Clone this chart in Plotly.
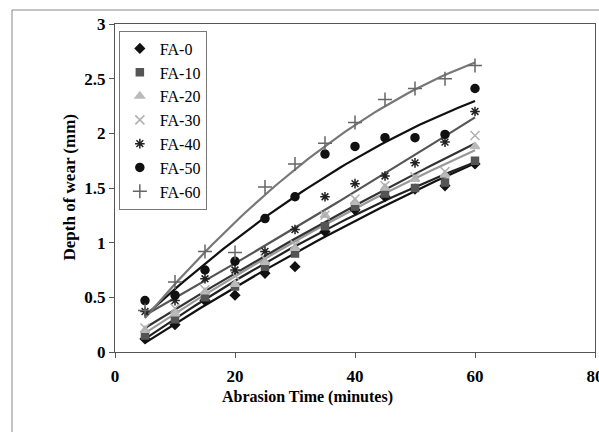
import numpy as np
import plotly.graph_objects as go

time_min = [5, 10, 15, 20, 25, 30, 35, 40, 45, 50, 55, 60]
series_names = ["FA-0", "FA-10", "FA-20", "FA-30", "FA-40", "FA-50", "FA-60"]
fa0 = [0.12, 0.25, 0.47, 0.52, 0.72, 0.78, 1.10, 1.30, 1.42, 1.49, 1.52, 1.72]
fa10 = [0.15, 0.30, 0.50, 0.60, 0.78, 0.90, 1.15, 1.33, 1.45, 1.50, 1.55, 1.75]
fa20 = [0.20, 0.35, 0.55, 0.62, 0.82, 0.95, 1.25, 1.37, 1.50, 1.58, 1.62, 1.88]
fa30 = [0.22, 0.40, 0.57, 0.70, 0.85, 0.98, 1.25, 1.40, 1.52, 1.60, 1.65, 1.98]
fa40 = [0.37, 0.47, 0.67, 0.75, 0.92, 1.12, 1.42, 1.54, 1.61, 1.73, 1.92, 2.20]
fa50 = [0.47, 0.52, 0.75, 0.83, 1.22, 1.42, 1.81, 1.88, 1.96, 1.96, 1.99, 2.41]
fa60 = [0.38, 0.64, 0.92, 0.91, 1.51, 1.72, 1.91, 2.10, 2.31, 2.41, 2.50, 2.62]
x_ticks = [0, 20, 40, 60, 80]
y_ticks = [0, 0.5, 1, 1.5, 2, 2.5, 3]
y_tick_text = ["0", "0.5", "1", "1.5", "2", "2.5", "3"]

values = [fa0, fa10, fa20, fa30, fa40, fa50, fa60]
symbols = ["diamond", "square", "triangle-up", "x-thin-open", "asterisk-open", "circle", "cross-thin-open"]
mcolors = ["#111111", "#555555", "#bbbbbb", "#b0b0b0", "#222222", "#111111", "#666666"]
msizes = [7, 7, 8, 9, 8, 8, 10]
lcolors = ["#111111", "#222222", "#999999", "#333333", "#555555", "#111111", "#777777"]

fig = go.Figure()
xs = np.array(time_min, dtype=float)
xfit = np.linspace(5, 60, 60)
for name, v, sym, mc, ms, lc in zip(series_names, values, symbols, mcolors, msizes, lcolors):
    coef = np.polyfit(xs, np.array(v), 2)
    fig.add_trace(go.Scatter(x=xfit, y=np.polyval(coef, xfit), mode="lines",
                             line=dict(color=lc, width=2.2), showlegend=False, hoverinfo="skip"))
for name, v, sym, mc, ms, lc in zip(series_names, values, symbols, mcolors, msizes, lcolors):
    fig.add_trace(go.Scatter(x=time_min, y=v, mode="markers", name=name,
                             marker=dict(symbol=sym, color=mc, size=ms,
                                         line=dict(color=mc, width=1.5))))

font_family = "Liberation Serif, Times New Roman, serif"
fig.update_layout(
    width=599, height=432,
    margin=dict(l=115, r=4, t=24, b=80),
    paper_bgcolor="white", plot_bgcolor="white",
    font=dict(family=font_family, color="black"),
    xaxis=dict(range=[0, 80], tickvals=x_ticks, showgrid=False, zeroline=False,
               showline=True, linecolor="#555555", linewidth=1, mirror=True,
               ticks="outside", ticklen=5, tickcolor="#555555",
               ticklabeloverflow="allow", automargin=False, ticklabelstandoff=4,
               tickfont=dict(size=17, family=font_family, weight="bold")),
    yaxis=dict(range=[0, 3], tickvals=y_ticks, ticktext=y_tick_text, showgrid=False, zeroline=False,
               showline=True, linecolor="#555555", linewidth=1, mirror=True,
               ticks="outside", ticklen=5, tickcolor="#555555", automargin=False,
               tickfont=dict(size=17, family=font_family, weight="bold")),
    legend=dict(x=0.008, y=0.98, xanchor="left", yanchor="top",
                bordercolor="#777777", borderwidth=1, bgcolor="white",
                font=dict(size=16, family=font_family), tracegroupgap=0,
                itemwidth=30),
    showlegend=True,
)
fig.add_annotation(text="<b>Abrasion Time (minutes)</b>", xref="paper", yref="paper",
                   x=(307 - 115) / 480, y=(352 - 408) / 328, showarrow=False,
                   font=dict(size=16, family=font_family))
fig.add_annotation(text="<b>Depth of wear (mm)</b>", xref="paper", yref="paper",
                   x=(57 - 115) / 480, y=(352 - 187) / 328, showarrow=False, textangle=-90,
                   font=dict(size=17, family=font_family))
fig.add_shape(type="rect", xref="paper", yref="paper",
              x0=(12 - 115) / 480, x1=(640 - 115) / 480,
              y0=(352 - 450) / 328, y1=(352 - 10) / 328,
              line=dict(color="#888888", width=1), layer="below")
fig.write_html("out.html")
